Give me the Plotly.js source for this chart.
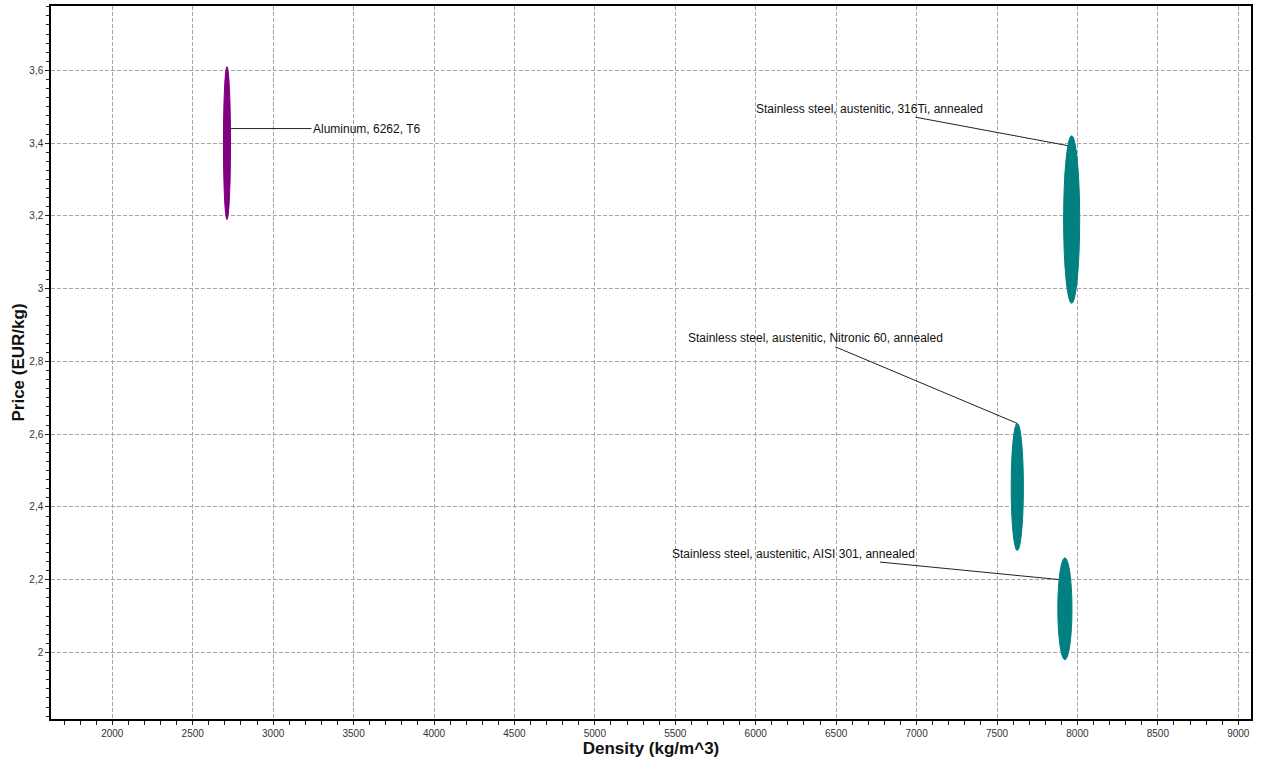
<!DOCTYPE html>
<html>
<head>
<meta charset="utf-8">
<script src="https://cdn.plot.ly/plotly-3.0.1.min.js"></script>
<style>html,body{margin:0;padding:0;background:#fff;}#chart{width:1264px;height:764px;}</style>
</head>
<body>
<div id="chart"></div>
<script>
// ---- Data ----
const materials = [
  "Aluminum, 6262, T6",
  "Stainless steel, austenitic, 316Ti, annealed",
  "Stainless steel, austenitic, Nitronic 60, annealed",
  "Stainless steel, austenitic, AISI 301, annealed"
];
const families = ["Aluminum", "Stainless steel", "Stainless steel", "Stainless steel"];
const densityLow  = [2691, 7914, 7588, 7878];
const densityHigh = [2735, 8014, 7664, 7966];
const priceLow  = [3.19, 2.96, 2.28, 1.98];
const priceHigh = [3.61, 3.42, 2.63, 2.26];

// ---- Styles ----
const familyColors = {"Aluminum": "#800080", "Stainless steel": "#008080"};
// label placement: angle on ellipse edge (deg) and pixel offset of the text
const labelAngle = [11, 118, 92, 145];
const labelAx = [136, -198, -202, -266];
const labelAy = [0, -37, -85, -26];

const fontFam = "Liberation Sans, Arial, sans-serif";

const shapes = materials.map((m, i) => ({
  type: "circle", xref: "x", yref: "y",
  x0: densityLow[i], x1: densityHigh[i], y0: priceLow[i], y1: priceHigh[i],
  fillcolor: familyColors[families[i]],
  line: {color: familyColors[families[i]], width: 1},
  layer: "above"
}));

const annotations = materials.map((m, i) => {
  const cx = (densityLow[i] + densityHigh[i]) / 2;
  const cy = (priceLow[i] + priceHigh[i]) / 2;
  const hw = (densityHigh[i] - densityLow[i]) / 2;
  const hh = (priceHigh[i] - priceLow[i]) / 2;
  const t = labelAngle[i] * Math.PI / 180;
  return {
    x: cx + Math.cos(t) * hw, y: cy + Math.sin(t) * hh,
    xref: "x", yref: "y",
    text: m, showarrow: true, arrowhead: 0, arrowwidth: 1, arrowcolor: "#222",
    standoff: 0, startstandoff: 0,
    ax: labelAx[i], ay: labelAy[i],
    font: {family: fontFam, size: 12, color: "#111"}
  };
});

const trace = {
  type: "scatter", mode: "markers",
  x: materials.map((m, i) => (densityLow[i] + densityHigh[i]) / 2),
  y: materials.map((m, i) => (priceLow[i] + priceHigh[i]) / 2),
  text: materials, hoverinfo: "text",
  marker: {size: 1, opacity: 0}, showlegend: false
};

const axisCommon = {
  showline: true, linecolor: "#000", linewidth: 1.5, mirror: true,
  showgrid: true, gridcolor: "#a6a6a6", griddash: "4px,2px", gridwidth: 1,
  zeroline: false, ticks: "outside", tickcolor: "#222", ticklen: 4, tickwidth: 1,
  tickfont: {family: fontFam, size: 10, color: "#333"}
};

const layout = {
  width: 1264, height: 764,
  margin: {l: 51, r: 13, t: 6, b: 45},
  paper_bgcolor: "#fff", plot_bgcolor: "#fff",
  separators: ",.",
  showlegend: false,
  xaxis: Object.assign({}, axisCommon, {
    range: [1619, 9079], dtick: 500, tick0: 0,
    minor: {dtick: 100, ticks: "outside", ticklen: 4, tickcolor: "#222", showgrid: false},
    title: {text: "Density (kg/m^3)", font: {family: fontFam, size: 17, color: "#111", weight: "bold"}, standoff: 4}
  }),
  yaxis: Object.assign({}, axisCommon, {
    range: [1.817, 3.777], dtick: 0.2, tick0: 0,
    minor: {dtick: 0.025, ticks: "outside", ticklen: 3, tickcolor: "#222", showgrid: false},
    title: {text: "Price (EUR/kg)", font: {family: fontFam, size: 17, color: "#111", weight: "bold"}, standoff: 0}
  }),
  shapes: shapes,
  annotations: annotations
};

Plotly.newPlot("chart", [trace], layout, {displayModeBar: false, staticPlot: false});
</script>
</body>
</html>
